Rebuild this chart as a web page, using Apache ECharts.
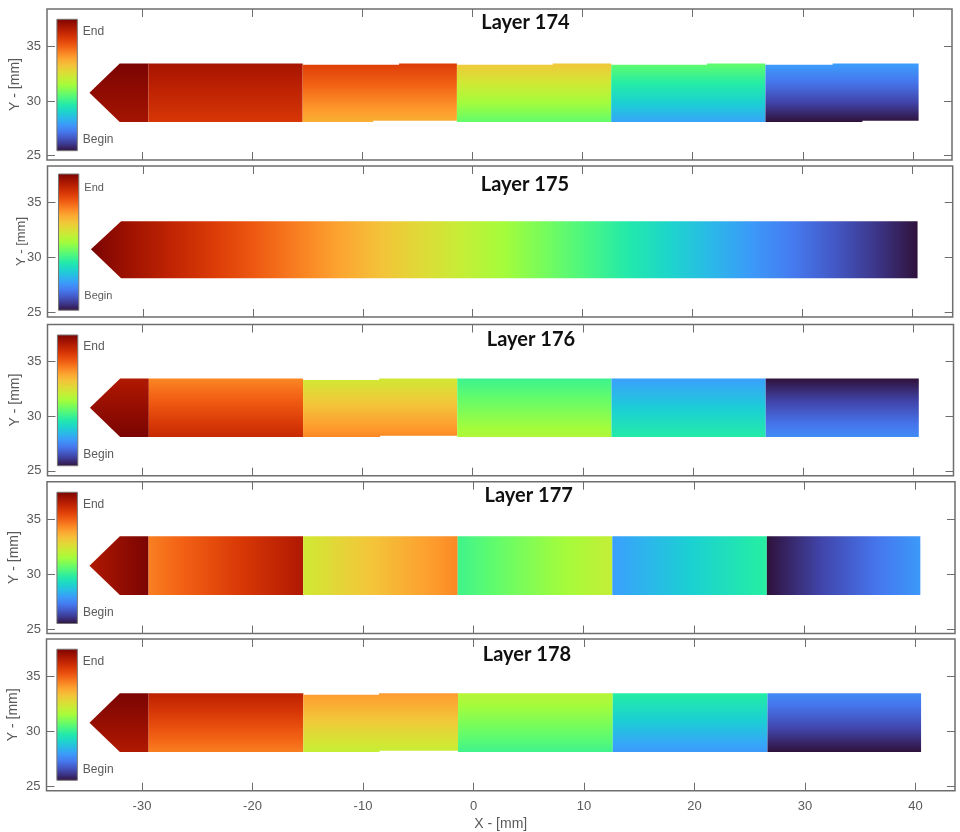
<!DOCTYPE html>
<html>
<head>
<meta charset="utf-8">
<style>html,body{margin:0;padding:0;background:#fff}#c{width:960px;height:832px}</style>
<script src="https://cdn.jsdelivr.net/npm/echarts@6/dist/echarts.min.js"></script>
</head>
<body>
<div id="c"></div>
<script>
// ---- Values ----
const layerNames = ['Layer 174', 'Layer 175', 'Layer 176', 'Layer 177', 'Layer 178'];
const xTicks = [-30, -20, -10, 0, 10, 20, 30, 40];
const yTicks = [25, 30, 35];
const legendTexts = ['End', 'Begin'];

// track outline, mm
const tipX = -34.75, tipY = 30.75, shoulderX = -32;
const bandEdges = [-29.4, -15.4, -1.4, 12.6, 26.6, 40.5];
const trackTop = 33.43, trackBottom = 28.09, stepTop = 33.3, stepBottom = 28.2;

// normalised time (0 = Begin, 1 = End) at gradient start and end of each band
const layer174Time = [[1.0, .945], [.945, .86], [.85, .68], [.64, .43], [.43, .22], [.21, 0]];
const layer175Time = [[1.0, 0]];
const layer176Time = [[.93, 1.0], [.74, .89], [.57, .74], [.385, .52], [.21, .355], [0, .18]];
const layer177Time = [[.93, 1.0], [.75, .93], [.57, .74], [.39, .55], [.21, .365], [0, .2]];
const layer178Time = [[1.0, .93], [.91, .75], [.715, .55], [.53, .39], [.36, .2], [.18, 0]];
const layerTimes = [layer174Time, layer175Time, layer176Time, layer177Time, layer178Time];
const layerDirections = ['v', 'h', 'v', 'h', 'v'];

// x of the small seams where a band's edge steps: {band index: x}
const topSteps = [{2: -6.65, 3: 7.3, 4: 21.3, 5: 32.7}, {}, {2: -8.5}, {}, {2: -8.55}];
const bottomSteps = [{2: -9, 5: 35.4}, {}, {2: -8.4}, {}, {2: -8.5}];

// colour scale
const turbo = ['#30123b','#4145ab','#4675ed','#39a2fc','#1bcfd4','#24eca6','#61fc6c','#a4fc3b',
               '#d1e834','#f3c63a','#fe9b2d','#f36315','#d93806','#b11901','#7a0402'];

// ---- Layout of the panels ----
const boxes = [[47, 952, 9, 160], [47.5, 952.7, 166, 317], [47.5, 953.5, 324.5, 475.7], [47, 955, 481.7, 633.5], [46.5, 955, 639, 790.7]];
const xRanges = [[-38.6, 43.53], [-38.7, 43.7], [-38.6, 43.65], [-38.6, 43.64], [-38.64, 43.57]];
const yRanges = [[24.61, 38.4], [24.58, 38.33], [24.55, 38.36], [24.59, 38.39], [24.57, 38.36]];
const barY = [[25.46, 37.46], [25.2, 37.6], [25.46, 37.4], [25.5, 37.43], [25.52, 37.43]];
const barX = [-37.7, -35.85];
const legendX = -35.35, legendY = [36.3, 26.45];
const titleAt = [[525.5, 22.7], [525, 185], [531, 340], [528.7, 495.7], [527, 655]];
const yNameGap = [25, 20, 25, 26, 26];
const yNameSize = [14, 13, 14, 14, 14];
const ink = '#5a5a5a', frame = '#6e6e6e';

function hex(c) { return [1, 3, 5].map(i => parseInt(c.substr(i, 2), 16)); }
function colourAt(t) {
  const p = Math.max(0, Math.min(1, t)) * (turbo.length - 1);
  const i = Math.min(turbo.length - 2, Math.floor(p)), f = p - i;
  const a = hex(turbo[i]), b = hex(turbo[i + 1]);
  return 'rgb(' + a.map((v, k) => Math.round(v + (b[k] - v) * f)).join(',') + ')';
}
function stops(a, b) {
  const out = [];
  for (let k = 0; k <= 20; k++) out.push({offset: k / 20, color: colourAt(a + (b - a) * k / 20)});
  return out;
}
function outlines(i) {
  const top = i === 1 ? 33.3 : trackTop, bot = i === 1 ? 28.1 : trackBottom;
  if (layerTimes[i].length === 1) {
    return [[[tipX, tipY], [shoulderX, top], [bandEdges[5], top], [bandEdges[5], bot], [shoulderX, bot]]];
  }
  const res = [[[tipX, tipY], [shoulderX, top], [bandEdges[0], top], [bandEdges[0], bot], [shoulderX, bot]]];
  for (let b = 1; b < bandEdges.length; b++) {
    const x0 = bandEdges[b - 1], x1 = bandEdges[b], ts = topSteps[i][b], bs = bottomSteps[i][b];
    const pts = [];
    if (ts !== undefined) pts.push([x0, stepTop], [ts, stepTop], [ts, top], [x1, top]);
    else pts.push([x0, top], [x1, top]);
    if (bs !== undefined) pts.push([x1, stepBottom], [bs, stepBottom], [bs, bot], [x0, bot]);
    else pts.push([x1, bot], [x0, bot]);
    res.push(pts);
  }
  return res;
}

const option = {animation: false, backgroundColor: '#fff', title: [], grid: [], xAxis: [], yAxis: [], series: []};

layerNames.forEach((name, i) => {
  const [l, r, t, b] = boxes[i];
  option.title.push({
    text: name, left: titleAt[i][0], top: titleAt[i][1], textAlign: 'center', textVerticalAlign: 'middle', padding: 0,
    textStyle: {fontFamily: 'Lato', fontWeight: 'bold', fontSize: 20, color: '#111'}
  });
  option.grid.push({left: l, top: t, width: r - l, height: b - t, show: true, outerBoundsMode: 'none', containLabel: false,
    borderColor: frame, borderWidth: 1.5, backgroundColor: '#fff'});
  const last = i === layerNames.length - 1;
  const tickStyle = {inside: true, length: 8, lineStyle: {color: frame, width: 1}};
  const line = {show: false, onZero: false};
  option.xAxis.push({
    type: 'value', gridIndex: i, position: 'bottom', min: xRanges[i][0], max: xRanges[i][1],
    splitLine: {show: false}, axisLine: line,
    axisTick: Object.assign({customValues: xTicks}, tickStyle),
    axisLabel: {show: last, customValues: xTicks, color: ink, fontSize: 13, margin: 9, fontFamily: 'Liberation Sans', formatter: v => String(v)},
    name: last ? 'X - [mm]' : '', nameLocation: 'middle', nameGap: 26, nameMoveOverlap: false,
    nameTextStyle: {color: ink, fontSize: 14, fontFamily: 'Liberation Sans'}
  }, {
    type: 'value', gridIndex: i, position: 'top', min: xRanges[i][0], max: xRanges[i][1],
    splitLine: {show: false}, axisLine: line,
    axisTick: Object.assign({customValues: xTicks}, tickStyle), axisLabel: {show: false}
  });
  option.yAxis.push({
    type: 'value', gridIndex: i, position: 'left', min: yRanges[i][0], max: yRanges[i][1],
    splitLine: {show: false}, axisLine: line,
    axisTick: Object.assign({customValues: yTicks}, tickStyle),
    axisLabel: {customValues: yTicks, color: ink, fontSize: 13, margin: 6, fontFamily: 'Liberation Sans', formatter: v => String(v)},
    name: 'Y - [mm]', nameLocation: 'middle', nameGap: yNameGap[i], nameRotate: 90, nameMoveOverlap: false,
    nameTextStyle: {color: ink, fontSize: yNameSize[i], fontFamily: 'Liberation Sans'}
  }, {
    type: 'value', gridIndex: i, position: 'right', min: yRanges[i][0], max: yRanges[i][1],
    splitLine: {show: false}, axisLine: line,
    axisTick: Object.assign({customValues: yTicks}, tickStyle), axisLabel: {show: false}
  });

  const shapes = outlines(i), times = layerTimes[i], dir = layerDirections[i];
  option.series.push({
    type: 'custom', name: name, xAxisIndex: 2 * i, yAxisIndex: 2 * i, silent: true, clip: false,
    data: times.map((tm, k) => [tm[0], tm[1], k]),
    renderItem: (params, api) => {
      const k = params.dataIndex;
      const g = dir === 'v'
        ? new echarts.graphic.LinearGradient(0, 0, 0, 1, stops(times[k][0], times[k][1]))
        : new echarts.graphic.LinearGradient(0, 0, 1, 0, stops(times[k][0], times[k][1]));
      return {type: 'polygon', shape: {points: shapes[k].map(p => api.coord(p))}, style: {fill: g}};
    }
  });
  option.series.push({
    type: 'custom', name: name + ' scale', xAxisIndex: 2 * i, yAxisIndex: 2 * i, silent: true, clip: false,
    data: [[barX[0], barY[i][0], barX[1], barY[i][1]]],
    renderItem: (params, api) => {
      const a = api.coord([api.value(0), api.value(3)]), c = api.coord([api.value(2), api.value(1)]);
      const kids = [{
        type: 'rect', shape: {x: a[0], y: a[1], width: c[0] - a[0], height: c[1] - a[1]},
        style: {fill: new echarts.graphic.LinearGradient(0, 1, 0, 0, stops(0, 1)), stroke: '#777', lineWidth: 1}
      }];
      legendTexts.forEach((txt, j) => {
        const p = api.coord([legendX, legendY[j]]);
        kids.push({type: 'text', style: {text: txt, x: p[0], y: p[1], fill: ink, verticalAlign: 'middle', align: 'left',
          font: (i === 1 ? 11 : 12) + 'px "Liberation Sans"'}});
      });
      return {type: 'group', children: kids};
    }
  });
});

echarts.init(document.getElementById('c'), null, {renderer: 'canvas', width: 960, height: 832}).setOption(option);
</script>
</body>
</html>
